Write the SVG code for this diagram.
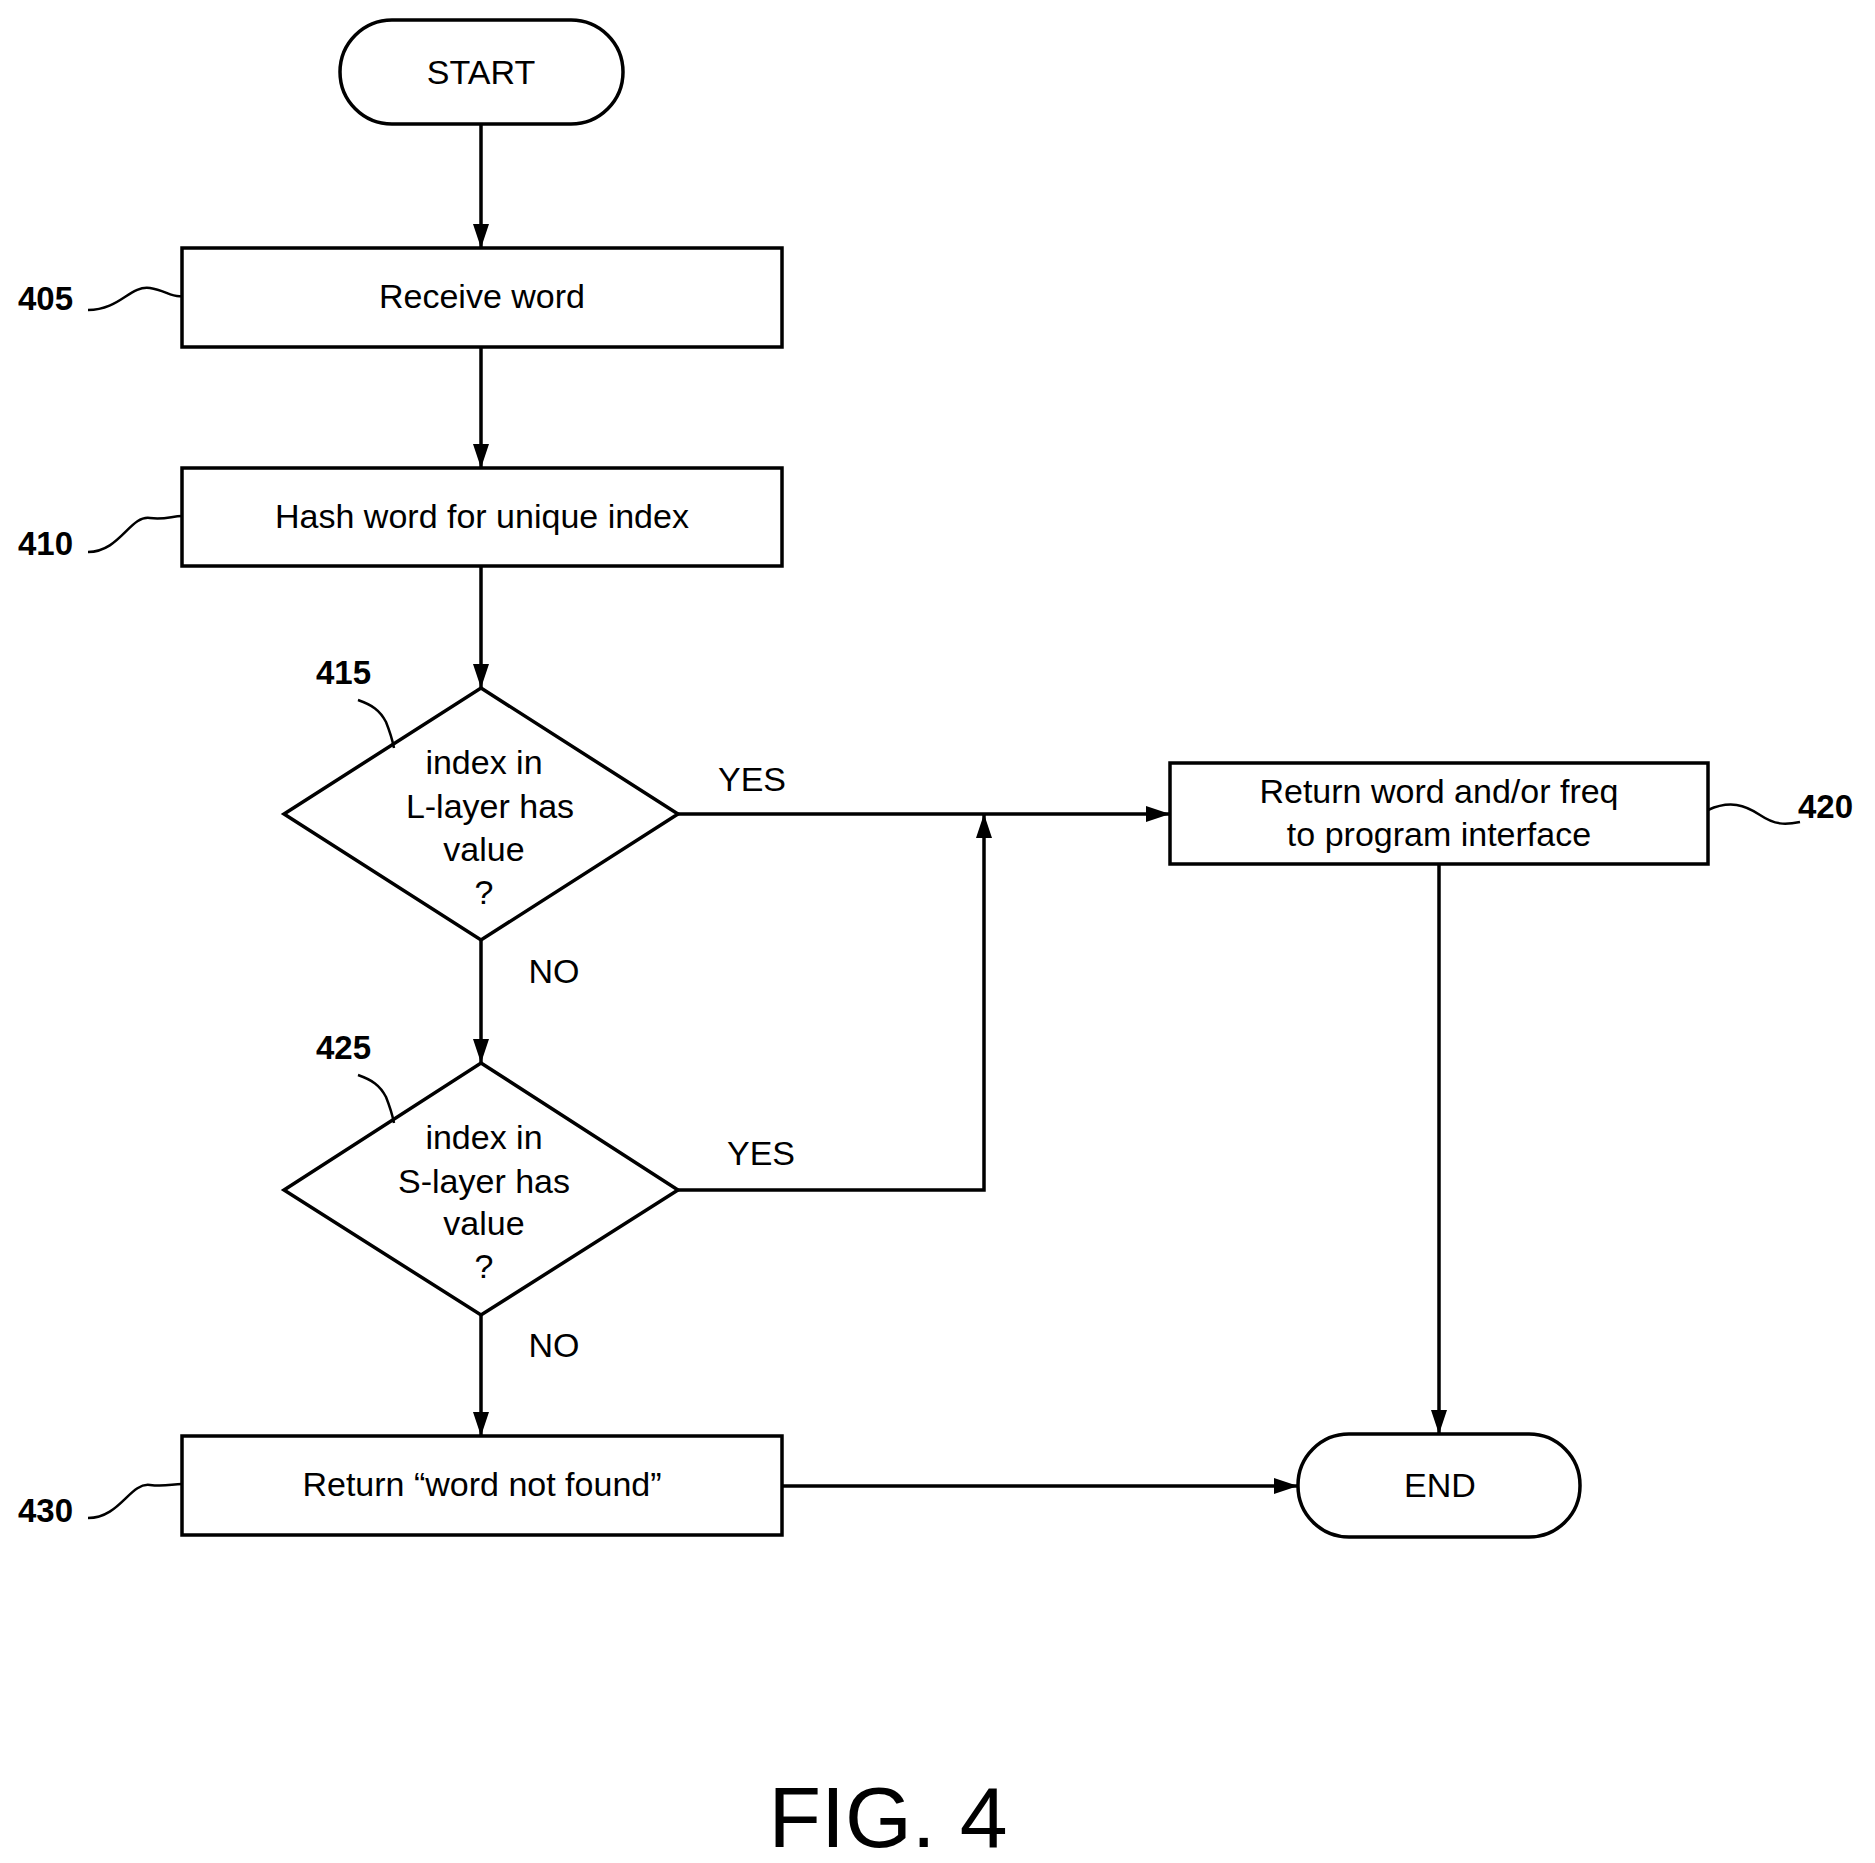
<svg xmlns="http://www.w3.org/2000/svg" width="1875" height="1863" viewBox="0 0 1875 1863">
<defs><marker id="ah" markerWidth="12" markerHeight="10" refX="12" refY="5" orient="auto" markerUnits="userSpaceOnUse" viewBox="0 0 12 10"><path d="M0,0 L12,5 L0,10 z" fill="#000"/></marker>
<marker id="a" viewBox="0 0 24 16" refX="24" refY="8" markerWidth="24" markerHeight="16" orient="auto" markerUnits="userSpaceOnUse"><path d="M0,0 L24,8 L0,16 z" fill="#000"/></marker></defs>
<style>
.s{fill:#fff;stroke:#000;stroke-width:3.5}
.t{font-family:"Liberation Sans",Arial,sans-serif;font-size:34px;text-anchor:middle;fill:#000}
.l{font-family:"Liberation Sans",Arial,sans-serif;font-size:33px;font-weight:bold;fill:#000}
.c{fill:none;stroke:#000;stroke-width:3.5}
.q{fill:none;stroke:#000;stroke-width:2.5}
</style>
<rect width="1875" height="1863" fill="#fff"/>
<g id="connectors">
<path class="c" d="M481,124 V248" marker-end="url(#a)"/>
<path class="c" d="M481,347 V468" marker-end="url(#a)"/>
<path class="c" d="M481,566 V688" marker-end="url(#a)"/>
<path class="c" d="M678,814 H1170" marker-end="url(#a)"/>
<path class="c" d="M481,940 V1063" marker-end="url(#a)"/>
<path class="c" d="M678,1190 H984 V814" marker-end="url(#a)"/>
<path class="c" d="M481,1315 V1436" marker-end="url(#a)"/>
<path class="c" d="M782,1486 H1298" marker-end="url(#a)"/>
<path class="c" d="M1439,864 V1434" marker-end="url(#a)"/>
<text class="t" x="752" y="791">YES</text>
<text class="t" x="761" y="1165">YES</text>
<text class="t" x="554" y="983">NO</text>
<text class="t" x="554" y="1357">NO</text>
</g>
<g id="start"><rect class="s" x="340" y="20" width="283" height="104" rx="52"/><text class="t" x="481" y="84">START</text></g>
<g id="n405"><rect class="s" x="182" y="248" width="600" height="99"/><text class="t" x="482" y="308">Receive word</text>
<path class="q" d="M88,310 C120,310 130,285 150,288 C165,290 172,298 182,296"/><text class="l" x="18" y="310">405</text></g>
<g id="n410"><rect class="s" x="182" y="468" width="600" height="98"/><text class="t" x="482" y="528">Hash word for unique index</text>
<path class="q" d="M88,552 C120,552 130,515 150,518 C165,520 172,516 182,516"/><text class="l" x="18" y="555">410</text></g>
<g id="n415"><path class="s" d="M481,688 L678,814 L481,940 L284,814 z"/>
<text class="t" x="484" y="774">index in</text><text class="t" x="490" y="818">L-layer has</text><text class="t" x="484" y="861">value</text><text class="t" x="484" y="904">?</text>
<path class="q" d="M358,700 C372,705 380,710 386,722 C390,732 392,738 394,748"/><text class="l" x="316" y="684">415</text></g>
<g id="n425"><path class="s" d="M481,1063 L678,1190 L481,1315 L284,1190 z"/>
<text class="t" x="484" y="1149">index in</text><text class="t" x="484" y="1193">S-layer has</text><text class="t" x="484" y="1235">value</text><text class="t" x="484" y="1278">?</text>
<path class="q" d="M358,1075 C372,1080 380,1085 386,1097 C390,1107 392,1113 394,1123"/><text class="l" x="316" y="1059">425</text></g>
<g id="n420"><rect class="s" x="1170" y="763" width="538" height="101"/><text class="t" x="1439" y="803">Return word and/or freq</text><text class="t" x="1439" y="846">to program interface</text>
<path class="q" d="M1708,810 C1730,800 1745,805 1760,815 C1775,825 1785,825 1800,822"/><text class="l" x="1798" y="818">420</text></g>
<g id="n430"><rect class="s" x="182" y="1436" width="600" height="99"/><text class="t" x="482" y="1496">Return “word not found”</text>
<path class="q" d="M88,1518 C120,1518 130,1482 150,1485 C165,1487 172,1484 182,1484"/><text class="l" x="18" y="1522">430</text></g>
<g id="end"><rect class="s" x="1298" y="1434" width="282" height="103" rx="51"/><text class="t" x="1440" y="1497">END</text></g>
<text x="888" y="1847" style="font-family:'Liberation Sans',Arial,sans-serif;font-size:86px;text-anchor:middle">FIG. 4</text>
</svg>
